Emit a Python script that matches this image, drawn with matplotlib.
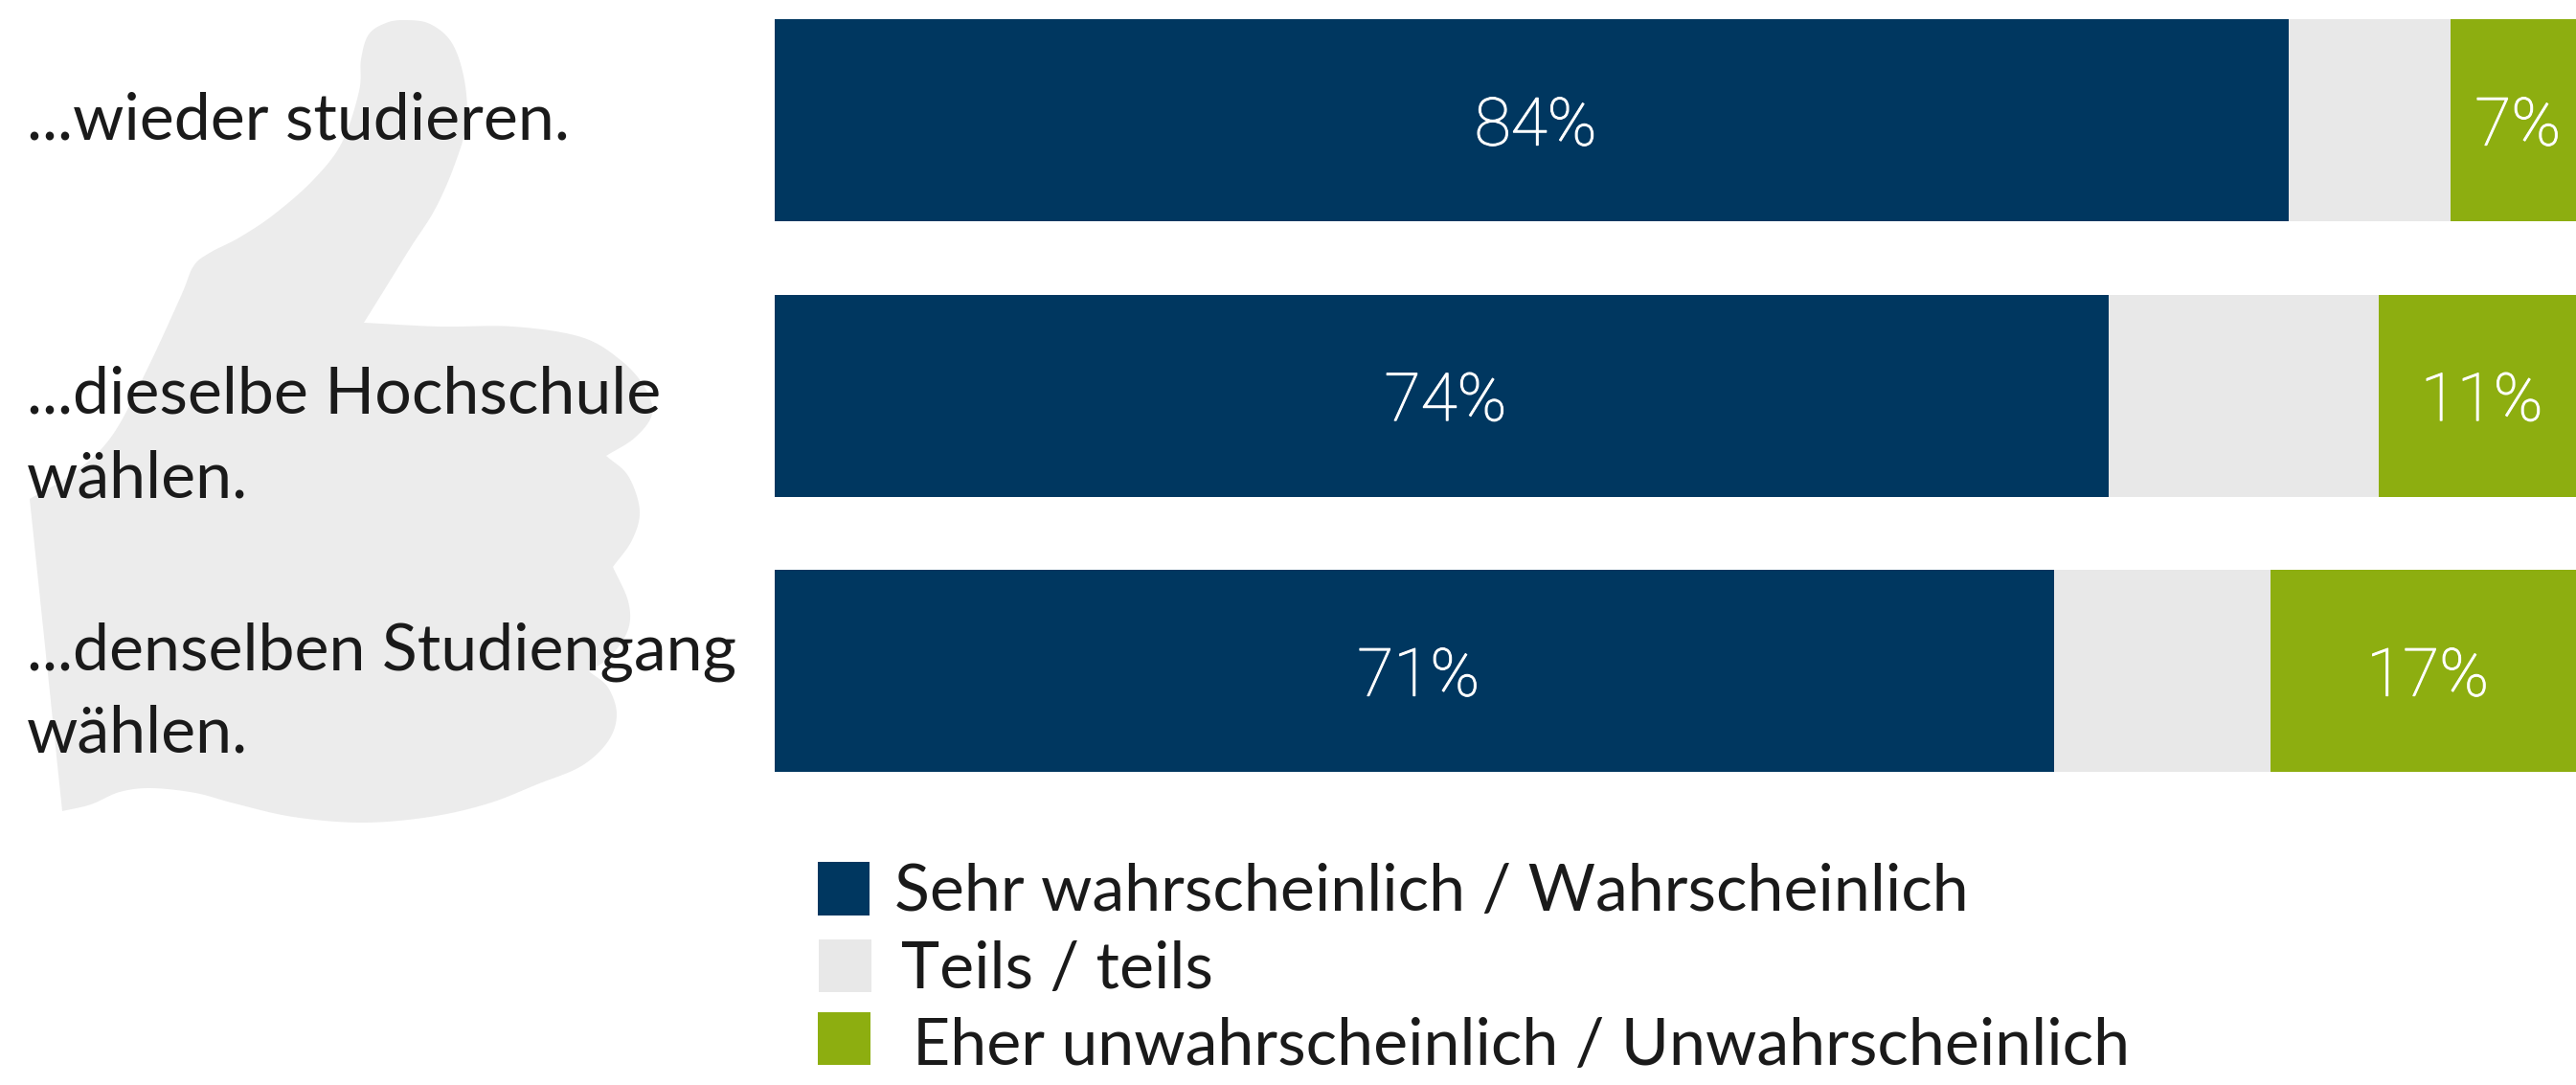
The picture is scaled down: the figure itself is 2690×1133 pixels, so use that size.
import numpy as np
import matplotlib
matplotlib.use("Agg")
import matplotlib.pyplot as plt
import matplotlib.patheffects as pe
from matplotlib.patches import Polygon, Rectangle

W, H = 2690, 1133

questions = ["...wieder studieren.", "...dieselbe Hochschule\nwählen.", "...denselben Studiengang\nwählen."]
yes_vals = [84, 74, 71]
mid_vals = [9, 15, 12]
no_vals = [7, 11, 17]
series_names = ["Sehr wahrscheinlich / Wahrscheinlich", "Teils / teils", "Eher unwahrscheinlich / Unwahrscheinlich"]
colors = ["#003760", "#E8E8E8", "#8DAE10"]

# outline of the thumb, split at its sharp corners
thumb_parts = [
    [(31, 521), (77, 494), (117, 455), (153, 387), (189, 309), (202, 278), (219, 264), (250, 248),
     (286, 224), (327, 188), (357, 149), (375, 95), (377, 62), (385, 36), (403, 24), (423, 21),
     (449, 25), (472, 45), (485, 84), (487, 129), (474, 174), (454, 219), (429, 258), (403, 300), (380, 337)],
    [(380, 337), (459, 341), (536, 341), (607, 352), (648, 376), (673, 404), (681, 432), (663, 457), (633, 476)],
    [(633, 476), (656, 497), (668, 533), (660, 564), (640, 592)],
    [(640, 592), (656, 628), (656, 657), (638, 685), (615, 701)],
    [(615, 701), (635, 718), (644, 746), (635, 774), (607, 800), (561, 819), (510, 839), (449, 853),
     (378, 859), (306, 853), (245, 839), (204, 828), (158, 823), (125, 827), (95, 840), (65, 847)],
]


def smooth(points, n=12):
    # catmull-rom through the traced points
    p = np.array(points, dtype=float)
    p = np.vstack([2 * p[0] - p[1], p, 2 * p[-1] - p[-2]])
    out = []
    for i in range(1, len(p) - 2):
        for t in np.linspace(0, 1, n, endpoint=False):
            out.append(0.5 * (2 * p[i] + (p[i + 1] - p[i - 1]) * t
                              + (2 * p[i - 1] - 5 * p[i] + 4 * p[i + 1] - p[i + 2]) * t ** 2
                              + (3 * p[i] - p[i - 1] - 3 * p[i + 1] + p[i + 2]) * t ** 3))
    out.append(p[-2])
    return out


def fx(x):
    return x / W


def fy(y):
    return 1 - y / H


plt.rcParams['font.family'] = ['Lato', 'DejaVu Sans']
fig = plt.figure(figsize=(W / 100, H / 100), dpi=100, facecolor="white")

outline = []
for part in thumb_parts:
    outline += smooth(part)
outline = [(fx(x), fy(y)) for x, y in outline]
fig.add_artist(Polygon(outline, closed=True, transform=fig.transFigure, facecolor="#ECECEC", edgecolor="none", zorder=0))

ax = fig.add_axes([fx(809), 0, fx(1882), 1])
ax.patch.set_alpha(0)
ax.axis("off")

rows = np.arange(len(questions))
yes_vals = np.array(yes_vals)
mid_vals = np.array(mid_vals)
no_vals = np.array(no_vals)
ax.barh(rows, yes_vals, height=0.734, color=colors[0])
ax.barh(rows, mid_vals, height=0.734, left=yes_vals, color=colors[1])
ax.barh(rows, no_vals, height=0.734, left=yes_vals + mid_vals, color=colors[2])
ax.set_xlim(0, 100)
ax.set_ylim(3.503, -0.438)

# the light weight comes out a bit too thin, thicken it slightly
thicker = [pe.withStroke(linewidth=0.8, foreground="white")]
for i in rows:
    ax.annotate(f"{yes_vals[i]}%", (yes_vals[i] / 2, i), xytext=(3, -5), textcoords="offset points",
                ha="center", va="center", color="white", fontsize=50, family="Roboto", fontweight="light",
                path_effects=thicker)
    ax.annotate(f"{no_vals[i]}%", (100 - no_vals[i] / 2, i), xytext=(3, -5), textcoords="offset points",
                ha="center", va="center", color="white", fontsize=50, family="Roboto", fontweight="light",
                path_effects=thicker)

# left labels
first_baselines = [145, 432, 699]
for q, base in zip(questions, first_baselines):
    for k, line in enumerate(q.split("\n")):
        fig.text(fx(28), fy(base + k * 87), line, ha="left", va="baseline", fontsize=49, color="#1a1a1a")

# legend
swatch_boxes = [(854, 900, 54, 56), (855, 981, 55, 55), (854, 1057, 55, 55)]
legend_text_x = [934, 941, 953]
legend_baselines = [951, 1032, 1112]
for name, c, box, tx, base in zip(series_names, colors, swatch_boxes, legend_text_x, legend_baselines):
    x, y, w, h = box
    fig.add_artist(Rectangle((fx(x), fy(y + h)), w / W, h / H, transform=fig.transFigure, facecolor=c, edgecolor="none"))
    fig.text(fx(tx), fy(base), name, ha="left", va="baseline", fontsize=49, color="#1a1a1a")

fig.savefig("out.png", dpi=100)
